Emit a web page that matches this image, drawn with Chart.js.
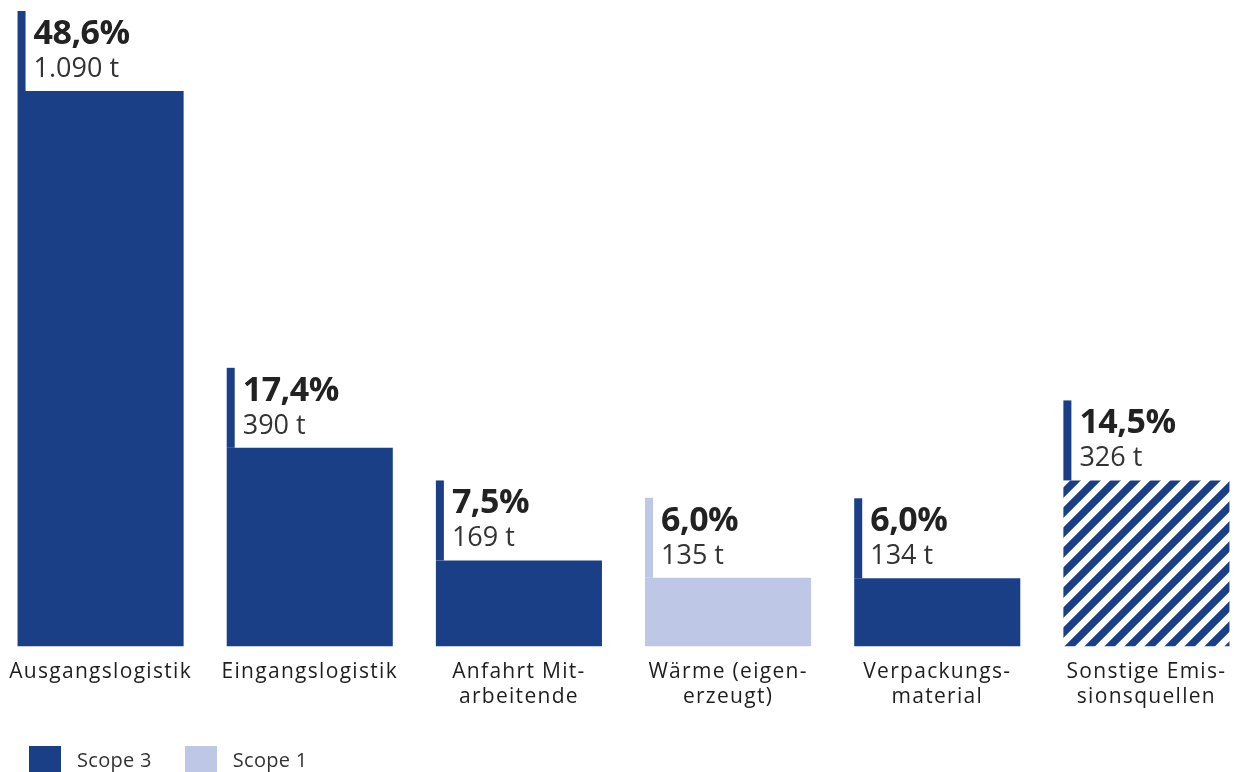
<!DOCTYPE html>
<html>
<head>
<meta charset="utf-8">
<script src="https://cdn.jsdelivr.net/npm/chart.js@4"></script>
<style>
  html, body { margin: 0; padding: 0; background: #fff; overflow: hidden; }
  #wrap { position: absolute; left: -4px; top: 0; width: 1255px; height: 772px; }
  #legende { position: absolute; left: 29px; top: 744px; font-family: "Open Sans", sans-serif; font-size: 20px; letter-spacing: 0.3px; color: #333; white-space: nowrap; }
  #legende span.box { display: inline-block; width: 32px; height: 28px; vertical-align: middle; margin-right: 16px; }
  #legende span.txt { display: inline-block; vertical-align: middle; margin-right: 33px; }
</style>
</head>
<body>
<div id="wrap"><canvas id="chartEmissionen"></canvas></div>
<div id="legende"></div>
<script>
// Daten
const kategorien = [
  "Ausgangslogistik",
  "Eingangslogistik",
  ["Anfahrt Mit-", "arbeitende"],
  ["Wärme (eigen-", "erzeugt)"],
  ["Verpackungs-", "material"],
  ["Sonstige Emis-", "sionsquellen"]
];
const tonnen = [1090, 390, 169, 135, 134, 326];
const prozent = ["48,6%", "17,4%", "7,5%", "6,0%", "6,0%", "14,5%"];
const scope = ["Scope 3", "Scope 3", "Scope 3", "Scope 1", "Scope 3", "Sonstige"];
const legendeEintraege = ["Scope 3", "Scope 1"];

const DUNKELBLAU = "#1b3f87";
const HELLBLAU = "#bec8e6";

// Schraffur für "Sonstige"
function schraffur() {
  const c = document.createElement("canvas");
  c.width = 20; c.height = 20;
  const ctx = c.getContext("2d");
  ctx.strokeStyle = DUNKELBLAU;
  ctx.lineWidth = 7.5;
  ctx.beginPath();
  ctx.moveTo(-10, 30); ctx.lineTo(30, -10);
  ctx.moveTo(-10, 10); ctx.lineTo(10, -10);
  ctx.moveTo(10, 30); ctx.lineTo(30, 10);
  ctx.stroke();
  return ctx.createPattern(c, "repeat");
}

function farbe(s) {
  if (s === "Scope 3") return DUNKELBLAU;
  if (s === "Scope 1") return HELLBLAU;
  return schraffur();
}

function formatTonnen(v) {
  return v.toString().replace(/\B(?=(\d{3})+(?!\d))/g, ".") + " t";
}

// etwas Zeichenabstand für die Achsenbeschriftung
const sperrung = {
  id: "sperrung",
  beforeDraw(chart) {
    chart.ctx.letterSpacing = "1.3px";
  }
};

// Beschriftung über den Balken
const beschriftung = {
  id: "beschriftung",
  afterDatasetsDraw(chart) {
    const ctx = chart.ctx;
    const meta = chart.getDatasetMeta(0);
    meta.data.forEach((bar, i) => {
      const links = bar.x - bar.width / 2;
      const oben = bar.y;
      ctx.save();
      ctx.letterSpacing = "0px";
      ctx.fillStyle = scope[i] === "Scope 1" ? HELLBLAU : DUNKELBLAU;
      ctx.fillRect(links, oben - 80, 8, 80);
      ctx.textAlign = "left";
      ctx.textBaseline = "alphabetic";
      ctx.fillStyle = "#222";
      ctx.font = "bold 34px 'Open Sans', sans-serif";
      ctx.letterSpacing = "-0.5px";
      ctx.fillText(prozent[i], links + 16, oben - 47);
      ctx.letterSpacing = "0px";
      ctx.fillStyle = "#333";
      ctx.font = "27px 'Open Sans', sans-serif";
      ctx.fillText(formatTonnen(tonnen[i]), links + 16, oben - 14);
      ctx.restore();
    });
  }
};

function grafico() {
  const canvas = document.getElementById("chartEmissionen");
  new Chart(canvas, {
    type: "bar",
    data: {
      labels: kategorien,
      datasets: [{
        label: "Emissionen",
        data: tonnen,
        backgroundColor: scope.map(s => farbe(s)),
        borderWidth: 0,
        categoryPercentage: 1,
        barPercentage: 0.794
      }]
    },
    options: {
      responsive: true,
      maintainAspectRatio: false,
      animation: false,
      layout: { padding: { top: 91, bottom: 57, left: 0, right: 0 } },
      plugins: { legend: { display: false }, tooltip: { enabled: false } },
      scales: {
        y: { display: false, min: 0, max: 1090 },
        x: {
          grid: { display: false },
          border: { display: false },
          ticks: {
            color: "#1e1e1e",
            padding: 5,
            maxRotation: 0,
            autoSkip: false,
            font: { family: "'Open Sans', sans-serif", size: 21, lineHeight: 1.2 }
          }
        }
      }
    },
    plugins: [sperrung, beschriftung]
  });
}

function legende() {
  const el = document.getElementById("legende");
  legendeEintraege.forEach(l => {
    el.innerHTML += '<span class="box" style="background:' + farbe(l) + '"></span><span class="txt">' + l + '</span>';
  });
}

grafico();
legende();
</script>
</body>
</html>
